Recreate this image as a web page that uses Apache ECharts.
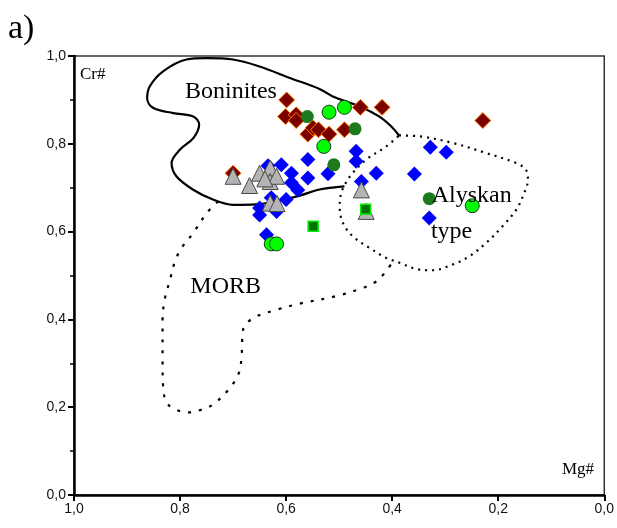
<!DOCTYPE html>
<html>
<head>
<meta charset="utf-8">
<script src="https://cdn.jsdelivr.net/npm/echarts@6/dist/echarts.min.js"></script>
<style>
  html, body { margin: 0; padding: 0; background: #fff; }
  #chart { width: 617px; height: 528px; }
</style>
</head>
<body>
<div id="chart"></div>
<script>
// [Mg#, Cr#] pairs
var redDiamonds = [[0.599, 0.900], [0.601, 0.862], [0.581, 0.866], [0.581, 0.853], [0.559, 0.822],
    [0.549, 0.836], [0.539, 0.832], [0.519, 0.822], [0.490, 0.832], [0.460, 0.883], [0.419, 0.883],
    [0.229, 0.853], [0.700, 0.733]];
var blueDiamonds = [[0.609, 0.752], [0.559, 0.764], [0.590, 0.733], [0.559, 0.722], [0.590, 0.711],
    [0.578, 0.695], [0.521, 0.732], [0.468, 0.783], [0.468, 0.760], [0.430, 0.733], [0.358, 0.731],
    [0.458, 0.714], [0.600, 0.673], [0.628, 0.677], [0.650, 0.654], [0.650, 0.638], [0.618, 0.646],
    [0.637, 0.593], [0.328, 0.792], [0.298, 0.781], [0.330, 0.631], [0.634, 0.750]];
var greyTriangles = [[0.700, 0.726], [0.669, 0.705], [0.650, 0.733], [0.630, 0.745], [0.630, 0.714],
    [0.618, 0.726], [0.640, 0.720], [0.630, 0.665], [0.617, 0.664], [0.458, 0.695], [0.449, 0.646]];
var greenSquares = [[0.549, 0.612], [0.450, 0.651]];
var darkCircles = [[0.560, 0.862], [0.470, 0.834], [0.510, 0.752], [0.330, 0.675]];
var lightCircles = [[0.519, 0.872], [0.490, 0.883], [0.529, 0.794], [0.628, 0.572], [0.618, 0.572],
    [0.249, 0.659]];

// field outlines
var boniniteField = [[0.490, 0.703], [0.537, 0.696], [0.574, 0.682], [0.612, 0.671], [0.656, 0.662],
    [0.700, 0.661], [0.738, 0.673], [0.776, 0.696], [0.807, 0.726], [0.816, 0.756], [0.800, 0.787],
    [0.775, 0.813], [0.764, 0.844], [0.775, 0.862], [0.813, 0.870], [0.851, 0.882], [0.862, 0.904],
    [0.857, 0.931], [0.832, 0.965], [0.788, 0.992], [0.750, 0.995], [0.700, 0.992], [0.650, 0.976],
    [0.593, 0.950], [0.537, 0.925], [0.512, 0.908], [0.461, 0.885], [0.424, 0.862], [0.402, 0.840],
    [0.387, 0.819]];
var morbField = [[0.728, 0.669], [0.750, 0.642], [0.775, 0.597], [0.797, 0.563], [0.810, 0.531],
    [0.819, 0.490], [0.829, 0.445], [0.833, 0.399], [0.833, 0.308], [0.832, 0.247], [0.825, 0.210],
    [0.807, 0.194], [0.785, 0.188], [0.763, 0.193], [0.738, 0.206], [0.706, 0.244], [0.689, 0.278],
    [0.684, 0.316], [0.681, 0.377], [0.662, 0.403], [0.618, 0.422], [0.574, 0.436], [0.502, 0.454],
    [0.455, 0.472], [0.433, 0.484], [0.414, 0.506], [0.399, 0.531]];
var alaskanField = [[0.387, 0.819], [0.348, 0.817], [0.286, 0.802], [0.223, 0.779], [0.166, 0.756],
    [0.148, 0.741], [0.144, 0.718], [0.151, 0.688], [0.166, 0.650], [0.192, 0.612], [0.223, 0.574],
    [0.254, 0.544], [0.286, 0.525], [0.323, 0.512], [0.355, 0.515], [0.386, 0.529], [0.411, 0.540],
    [0.443, 0.563], [0.474, 0.589], [0.493, 0.620], [0.499, 0.657], [0.496, 0.688], [0.486, 0.714],
    [0.474, 0.734], [0.449, 0.764], [0.411, 0.794], [0.387, 0.819]];

var fieldNames = ['Boninites', 'MORB', 'Alyskan', 'type'];
var fieldLabelPos = [[0.704, 0.919], [0.714, 0.474], [0.250, 0.682], [0.288, 0.600]];

var chart = echarts.init(document.getElementById('chart'));
var serif = '"Liberation Serif", "Times New Roman", serif';
var sans = '"Liberation Sans", Arial, sans-serif';

function dots(name, data, symbol, size, color, border, bw, z) {
    return {
        name: name, type: 'scatter', data: data, symbol: symbol, symbolSize: size, z: z,
        itemStyle: { color: color, borderColor: border, borderWidth: bw, opacity: 1 }
    };
}
function field(name, data, dash, width) {
    return {
        name: name, type: 'line', data: data, smooth: 0.35, symbol: 'none', z: 1,
        lineStyle: { color: '#000', width: width, type: dash }
    };
}
function commaLabel(v) {
    return v.toFixed(1).replace('.', ',');
}

chart.setOption({
    backgroundColor: '#fff',
    animation: false,
    grid: { left: 74, right: 12, top: 56, bottom: 33, show: true, borderColor: '#333', borderWidth: 1.5 },
    xAxis: {
        type: 'value', min: 0, max: 1, interval: 0.2, inverse: true,
        axisLine: { onZero: false, lineStyle: { color: '#000', width: 2.5 } },
        axisTick: { length: 6, lineStyle: { color: '#000', width: 2 } },
        splitLine: { show: false },
        axisLabel: { color: '#111', fontSize: 14, fontFamily: sans, margin: 7, formatter: commaLabel }
    },
    yAxis: {
        type: 'value', min: 0, max: 1, interval: 0.2,
        axisLine: { onZero: false, lineStyle: { color: '#000', width: 2.5 } },
        axisTick: { length: 6, lineStyle: { color: '#000', width: 2 } },
        minorTick: { show: true, splitNumber: 2, length: 4, lineStyle: { color: '#000', width: 1.5 } },
        splitLine: { show: false },
        axisLabel: { color: '#111', fontSize: 14, fontFamily: sans, margin: 8, formatter: commaLabel }
    },
    graphic: [
        { type: 'text', left: 8, top: 12, style: { text: 'a)', font: '34px ' + serif, fill: '#000' } },
        { type: 'text', left: 80, top: 66, style: { text: 'Cr#', font: '17px ' + serif, fill: '#000' } },
        { type: 'text', left: 562, top: 461, style: { text: 'Mg#', font: '17px ' + serif, fill: '#000' } }
    ],
    series: [
        field('Boninites field', boniniteField, 'solid', 2.2),
        field('MORB field', morbField, [3, 8], 2.2),
        field('Alyskan field', alaskanField, [2, 5], 2.2),
        dots('red', redDiamonds, 'diamond', 16, '#7a0000', '#ff7f00', 1, 3),
        dots('blue', blueDiamonds, 'diamond', 15, '#0000ff', '#0000ff', 0, 4),
        dots('grey', greyTriangles, 'triangle', 16, '#b4b4b4', '#4a4a4a', 1, 5),
        dots('square', greenSquares, 'rect', 10, '#007300', '#00f000', 1.5, 6),
        dots('dark', darkCircles, 'circle', 13, '#1e7a1e', '#1e7a1e', 0, 6),
        dots('light', lightCircles, 'circle', 14, '#00ff00', '#1a3a1a', 1, 7),
        {
            name: 'fields', type: 'scatter', symbolSize: 0, z: 8, silent: true,
            itemStyle: { opacity: 1 },
            data: fieldNames.map(function (n, i) { return { name: n, value: fieldLabelPos[i] }; }),
            label: {
                show: true, position: 'inside', formatter: '{b}', opacity: 1,
                fontFamily: serif, fontSize: 24, color: '#000', textBorderWidth: 0
            }
        }
    ]
});
</script>
</body>
</html>
